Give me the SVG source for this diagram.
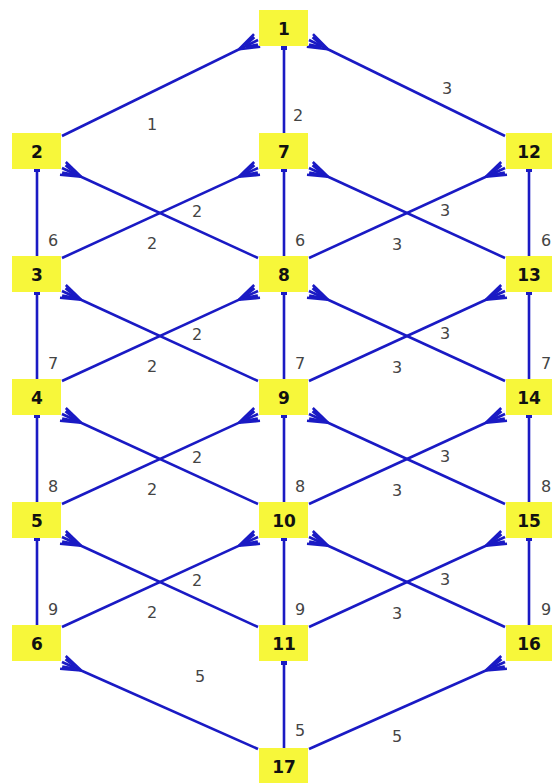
<svg xmlns="http://www.w3.org/2000/svg" width="554" height="783" viewBox="0 0 554 783">
<style>
.e{stroke:#1a1ac4;stroke-width:2.6;fill:none}
.x{marker-end:url(#crow)}
.v{marker-end:url(#cap)}
.n rect{fill:#f7f73a}
.n text{font-family:"DejaVu Sans",Verdana,sans-serif;font-weight:bold;font-size:17px;fill:#111;text-anchor:middle;dominant-baseline:central}
.l{font-family:"DejaVu Sans",Verdana,sans-serif;font-size:16px;fill:#444;text-anchor:middle;dominant-baseline:central}
</style>
<defs>
<marker id="crow" markerUnits="userSpaceOnUse" orient="auto" overflow="visible" markerWidth="1" markerHeight="1" refX="0" refY="0">
<path d="M-21,0 L-1,-7 M-21,0 L-1,7 M-14,-1 L-2,-4 M-14,1 L-2,4" stroke="#1a1ac4" stroke-width="2.6" fill="none"/>
</marker>
<marker id="cap" markerUnits="userSpaceOnUse" orient="auto" overflow="visible" markerWidth="1" markerHeight="1" refX="0" refY="0">
<rect x="-3" y="-3" width="4" height="6" fill="#1a1ac4"/>
</marker>
</defs>
<g id="connectors">
<line class="e x" x1="62" y1="136" x2="258" y2="40"/>
<line class="e x" x1="505" y1="136" x2="309" y2="40"/>
<line class="e v" x1="284" y1="133" x2="284" y2="47"/>
<line class="e v" x1="37" y1="256" x2="37" y2="169"/>
<line class="e v" x1="284" y1="256" x2="284" y2="169"/>
<line class="e v" x1="529" y1="256" x2="529" y2="169"/>
<line class="e x" x1="62" y1="258" x2="258" y2="168"/>
<line class="e x" x1="258" y1="258" x2="62" y2="168"/>
<line class="e x" x1="309" y1="258" x2="505" y2="168"/>
<line class="e x" x1="505" y1="258" x2="309" y2="168"/>
<line class="e v" x1="37" y1="379" x2="37" y2="292"/>
<line class="e v" x1="284" y1="379" x2="284" y2="292"/>
<line class="e v" x1="529" y1="379" x2="529" y2="292"/>
<line class="e x" x1="62" y1="381" x2="258" y2="291"/>
<line class="e x" x1="258" y1="381" x2="62" y2="291"/>
<line class="e x" x1="309" y1="381" x2="505" y2="291"/>
<line class="e x" x1="505" y1="381" x2="309" y2="291"/>
<line class="e v" x1="37" y1="502" x2="37" y2="415"/>
<line class="e v" x1="284" y1="502" x2="284" y2="415"/>
<line class="e v" x1="529" y1="502" x2="529" y2="415"/>
<line class="e x" x1="62" y1="504" x2="258" y2="414"/>
<line class="e x" x1="258" y1="504" x2="62" y2="414"/>
<line class="e x" x1="309" y1="504" x2="505" y2="414"/>
<line class="e x" x1="505" y1="504" x2="309" y2="414"/>
<line class="e v" x1="37" y1="625" x2="37" y2="538"/>
<line class="e v" x1="284" y1="625" x2="284" y2="538"/>
<line class="e v" x1="529" y1="625" x2="529" y2="538"/>
<line class="e x" x1="62" y1="627" x2="258" y2="537"/>
<line class="e x" x1="258" y1="627" x2="62" y2="537"/>
<line class="e x" x1="309" y1="627" x2="505" y2="537"/>
<line class="e x" x1="505" y1="627" x2="309" y2="537"/>
<line class="e x" x1="258" y1="749" x2="62" y2="662"/>
<line class="e v" x1="284" y1="748" x2="284" y2="662"/>
<line class="e x" x1="309" y1="749" x2="505" y2="662"/>
<g id="edge-labels">
<text class="l" x="152" y="124">1</text>
<text class="l" x="447" y="88">3</text>
<text class="l" x="298" y="115">2</text>
<text class="l" x="53" y="240">6</text><text class="l" x="197" y="211">2</text><text class="l" x="152" y="243">2</text><text class="l" x="300" y="240">6</text><text class="l" x="445" y="210">3</text><text class="l" x="397" y="244">3</text><text class="l" x="546" y="240">6</text>
<text class="l" x="53" y="363">7</text><text class="l" x="197" y="334">2</text><text class="l" x="152" y="366">2</text><text class="l" x="300" y="363">7</text><text class="l" x="445" y="333">3</text><text class="l" x="397" y="367">3</text><text class="l" x="546" y="363">7</text>
<text class="l" x="53" y="486">8</text><text class="l" x="197" y="457">2</text><text class="l" x="152" y="489">2</text><text class="l" x="300" y="486">8</text><text class="l" x="445" y="456">3</text><text class="l" x="397" y="490">3</text><text class="l" x="546" y="486">8</text>
<text class="l" x="53" y="609">9</text><text class="l" x="197" y="580">2</text><text class="l" x="152" y="612">2</text><text class="l" x="300" y="609">9</text><text class="l" x="445" y="579">3</text><text class="l" x="397" y="613">3</text><text class="l" x="546" y="609">9</text>
<text class="l" x="200" y="676">5</text><text class="l" x="300" y="730">5</text><text class="l" x="397" y="736">5</text>
</g>
</g>
<g id="n1" class="n"><rect x="259" y="10" width="49" height="36"/><text x="284" y="29">1</text></g>
<g id="n2" class="n"><rect x="12" y="133" width="49" height="36"/><text x="37" y="152">2</text></g>
<g id="n7" class="n"><rect x="259" y="133" width="49" height="36"/><text x="284" y="152">7</text></g>
<g id="n12" class="n"><rect x="506" y="133" width="46" height="36"/><text x="529" y="152">12</text></g>
<g id="n3" class="n"><rect x="12" y="256" width="49" height="36"/><text x="37" y="275">3</text></g>
<g id="n8" class="n"><rect x="259" y="256" width="49" height="36"/><text x="284" y="275">8</text></g>
<g id="n13" class="n"><rect x="506" y="256" width="46" height="36"/><text x="529" y="275">13</text></g>
<g id="n4" class="n"><rect x="12" y="379" width="49" height="36"/><text x="37" y="398">4</text></g>
<g id="n9" class="n"><rect x="259" y="379" width="49" height="36"/><text x="284" y="398">9</text></g>
<g id="n14" class="n"><rect x="506" y="379" width="46" height="36"/><text x="529" y="398">14</text></g>
<g id="n5" class="n"><rect x="12" y="502" width="49" height="36"/><text x="37" y="521">5</text></g>
<g id="n10" class="n"><rect x="259" y="502" width="49" height="36"/><text x="284" y="521">10</text></g>
<g id="n15" class="n"><rect x="506" y="502" width="46" height="36"/><text x="529" y="521">15</text></g>
<g id="n6" class="n"><rect x="12" y="625" width="49" height="36"/><text x="37" y="644">6</text></g>
<g id="n11" class="n"><rect x="259" y="625" width="49" height="36"/><text x="284" y="644">11</text></g>
<g id="n16" class="n"><rect x="506" y="625" width="46" height="36"/><text x="529" y="644">16</text></g>
<g id="n17" class="n"><rect x="259" y="748" width="49" height="36"/><text x="284" y="767">17</text></g>
</svg>
